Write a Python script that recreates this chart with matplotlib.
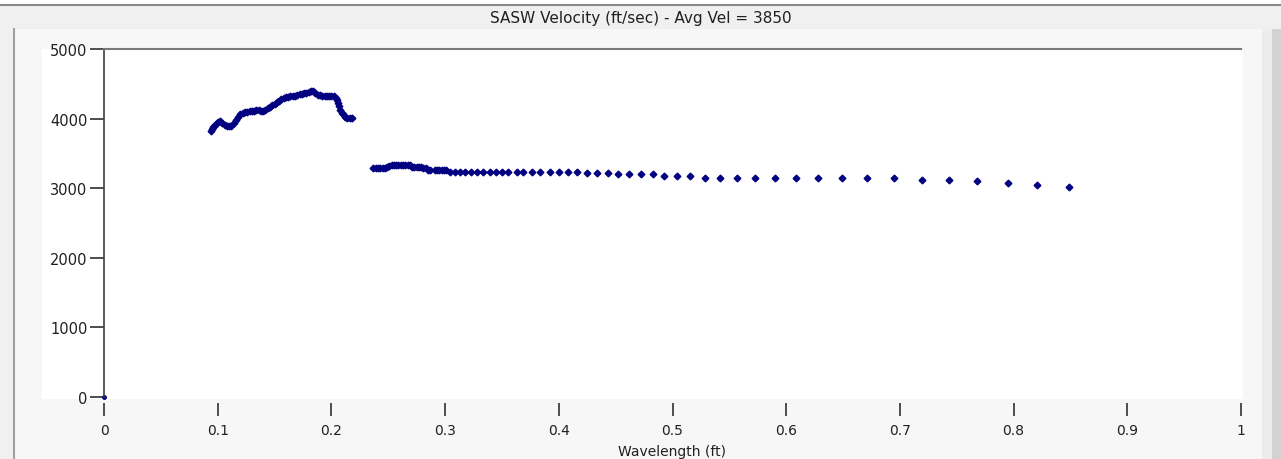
import matplotlib
matplotlib.use("Agg")
import matplotlib.pyplot as plt
from matplotlib.patches import Rectangle

# wavelength (ft) / velocity (ft/sec)
wl_a = [0.094, 0.095, 0.096, 0.097, 0.098, 0.099, 0.100, 0.102, 0.104, 0.106,
        0.108, 0.110, 0.112, 0.114, 0.116, 0.118, 0.120, 0.122, 0.124, 0.126,
        0.128, 0.130, 0.132, 0.134, 0.136, 0.138, 0.140, 0.142, 0.144, 0.146,
        0.148, 0.150, 0.152, 0.154, 0.156, 0.158, 0.160, 0.162, 0.164, 0.166,
        0.168, 0.170, 0.172, 0.174, 0.176, 0.178, 0.180, 0.182, 0.184, 0.186,
        0.188, 0.190, 0.192, 0.194, 0.196, 0.198, 0.200, 0.202, 0.204, 0.205,
        0.206, 0.207, 0.208, 0.209, 0.210, 0.212, 0.214, 0.216, 0.218]
vel_a = [3820, 3850, 3880, 3900, 3910, 3930, 3950, 3960, 3930, 3910,
         3900, 3900, 3890, 3930, 3980, 4020, 4060, 4080, 4090, 4100,
         4105, 4110, 4115, 4120, 4120, 4115, 4115, 4130, 4150, 4170,
         4190, 4210, 4235, 4255, 4275, 4295, 4305, 4315, 4320, 4325,
         4330, 4340, 4350, 4360, 4370, 4375, 4385, 4392, 4390, 4370,
         4345, 4335, 4330, 4330, 4330, 4330, 4328, 4320, 4300, 4270,
         4230, 4180, 4120, 4080, 4060, 4030, 4015, 4010, 4010]

wl_b = [0.237, 0.239, 0.241, 0.243, 0.245, 0.247, 0.249, 0.251, 0.253, 0.255,
        0.257, 0.259, 0.261, 0.263, 0.265, 0.267, 0.269, 0.271, 0.273, 0.275,
        0.277, 0.279, 0.281, 0.283, 0.285, 0.287, 0.291, 0.293, 0.295, 0.297,
        0.299, 0.301,
        0.3043, 0.3087, 0.3131, 0.3175, 0.3228, 0.3278, 0.3330, 0.3395, 0.3448,
        0.3498, 0.3556, 0.3630, 0.3688, 0.3760, 0.3835, 0.3923, 0.4005, 0.4084,
        0.4163, 0.4245, 0.4339, 0.4436, 0.4524, 0.4620, 0.4720, 0.4830, 0.4925,
        0.5042, 0.5154, 0.5286, 0.5418, 0.5565, 0.5725, 0.5901, 0.6083, 0.6282,
        0.6487, 0.6715, 0.6948, 0.7190, 0.7435, 0.7675, 0.7953, 0.8208, 0.8487]
vel_b = [3290, 3290, 3290, 3290, 3292, 3295, 3300, 3320, 3335, 3338,
         3338, 3338, 3338, 3338, 3335, 3335, 3330, 3310, 3300, 3300,
         3300, 3298, 3295, 3290, 3268, 3265, 3265, 3266, 3266, 3264,
         3262, 3255,
         3230, 3230, 3230, 3230, 3230, 3230, 3230, 3228, 3228,
         3228, 3228, 3228, 3228, 3228, 3228, 3228, 3228, 3226,
         3226, 3225, 3225, 3222, 3205, 3204, 3204, 3204, 3180,
         3180, 3180, 3150, 3148, 3147, 3147, 3147, 3147, 3147,
         3147, 3147, 3147, 3123, 3123, 3099, 3070, 3046, 3013]

x_ticks = [0, 0.1, 0.2, 0.3, 0.4, 0.5, 0.6, 0.7, 0.8, 0.9, 1]
x_labels = ["0", "0.1", "0.2", "0.3", "0.4", "0.5", "0.6", "0.7", "0.8", "0.9", "1"]
y_ticks = [0, 1000, 2000, 3000, 4000, 5000]

W, H = 1281, 460
plt.rcParams['font.family'] = ['DejaVu Sans']

fig = plt.figure(figsize=(W / 100, H / 100), dpi=100, facecolor='#f0f0f0')

def px_rect(x0, y0, x1, y1, color, z=0):
    # rectangle given in image pixels (top-left origin)
    fig.add_artist(Rectangle((x0 / W, 1 - y1 / H), (x1 - x0) / W, (y1 - y0) / H,
                             transform=fig.transFigure, facecolor=color,
                             edgecolor='none', zorder=z))

px_rect(0, 0, W, 5, 'white')
fig.add_artist(plt.Line2D([0, 1], [1 - 5.5 / H] * 2, transform=fig.transFigure,
                          color='#8a8a8a', lw=1.5, zorder=1))
px_rect(15, 30, 1272, H, '#f7f7f7')
px_rect(42, 50, 1243, 400, 'white')
px_rect(1262, 30, 1272, H, '#ececec')
px_rect(1272, 30, W, H, '#d2d2d2')
fig.add_artist(plt.Line2D([13.5 / W] * 2, [0, 1 - 30 / H], transform=fig.transFigure,
                          color='#a0a0a0', lw=1.5, zorder=1))

fig.text(0.5, 1 - 18 / H, "SASW Velocity (ft/sec) - Avg Vel = 3850",
         ha='center', va='center', fontsize=11, color='#202020')

ax = fig.add_axes([104 / W, 62 / H, 1137 / W, 348 / H])
ax.set_facecolor('white')
ax.set_zorder(2)

ax.plot(wl_a, vel_a, linestyle='none', marker='D', ms=3.4, color='#000080', clip_on=False)
ax.plot(wl_b, vel_b, linestyle='none', marker='D', ms=3.4, color='#000080', clip_on=False)
ax.plot([0], [0], linestyle='none', marker='o', ms=2.5, color='#000080', clip_on=False)

ax.set_xlim(0, 1)
ax.set_ylim(0, 5000)
ax.set_xticks(x_ticks)
ax.set_xticklabels(x_labels)
ax.set_yticks(y_ticks)

for s in ['right', 'bottom']:
    ax.spines[s].set_visible(False)
ax.spines['bottom'].set_position(('outward', 4))
ax.spines['top'].set_color('#7a7a7a')
ax.spines['top'].set_linewidth(1.5)
ax.spines['left'].set_color('#404040')
ax.spines['left'].set_linewidth(1.2)

ax.tick_params(axis='x', length=9, width=1.2, color='#303030', pad=6,
               labelsize=10, labelcolor='#202020')
ax.tick_params(axis='y', length=10, width=1.2, color='#303030', pad=2,
               labelsize=10.5, labelcolor='#202020')
ax.set_xlabel("Wavelength (ft)", fontsize=10, color='#202020', labelpad=5)

fig.savefig("out.png", dpi=100, facecolor=fig.get_facecolor())
